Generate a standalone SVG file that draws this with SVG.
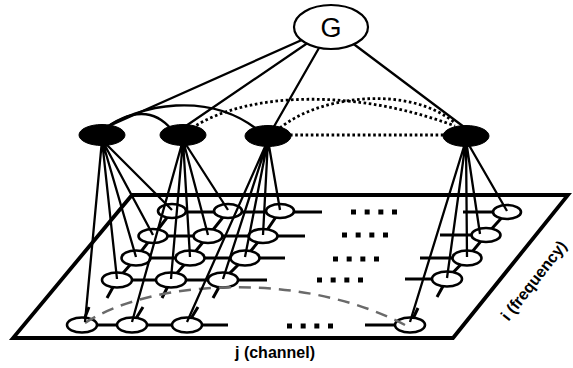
<svg xmlns="http://www.w3.org/2000/svg" width="573" height="368" viewBox="0 0 573 368">
<style>
.ln{stroke:#000;stroke-width:2.3;fill:none}
.row{stroke:#000;stroke-width:3;fill:none}
.cell{fill:#fff;stroke:#000;stroke-width:2.6}
.node{fill:#000;stroke:#000;stroke-width:1}
.dot{stroke:#000;stroke-width:2.8;stroke-dasharray:2.6 2.6;fill:none}
.sq{stroke:#000;stroke-width:5;stroke-dasharray:5 8.67;fill:none}
.lbl{font-family:"Liberation Sans",Arial,sans-serif;font-weight:bold;font-size:16px;fill:#000}
</style>
<rect width="573" height="368" fill="#fff"/>
<g id="plane">
<polygon points="132,195 568,195 453,338 13,338" fill="none" stroke="#000" stroke-width="3.8" stroke-linejoin="miter"/>
</g>
<g id="grid-lines">
<line class="row" x1="172" y1="212" x2="322" y2="212"/>
<line class="row" x1="153" y1="236" x2="305" y2="236"/>
<line class="row" x1="136" y1="258" x2="285" y2="258"/>
<line class="row" x1="117" y1="280" x2="267" y2="280"/>
<line class="row" x1="82" y1="325" x2="228" y2="325"/>
<line class="row" x1="463" y1="212" x2="507" y2="212"/>
<line class="row" x1="440" y1="235" x2="486" y2="235"/>
<line class="row" x1="420" y1="258" x2="467" y2="258"/>
<line class="row" x1="405" y1="279" x2="447" y2="279"/>
<line class="row" x1="365" y1="325" x2="410" y2="325"/>
<path class="row" d="M172,211 L153,236 L136,258 L117,280 L107,298 M82,325 L89,307"/>
<path class="row" d="M228,211 L208,236 L190,258 L171,280 L162,298 M132,325 L143,307"/>
<path class="row" d="M280,211 L263,236 L245,258 L223,280 L213,298 M187,325 L198,307"/>
<path class="row" d="M507,212 L486,235 L467,258 L447,279 L437,297 M410,325 L418,308"/>
<line class="sq" x1="351" y1="212" x2="397" y2="212"/>
<line class="sq" x1="342" y1="235" x2="388" y2="235"/>
<line class="sq" x1="333" y1="259" x2="379" y2="259"/>
<line class="sq" x1="317" y1="280" x2="363" y2="280"/>
<line class="sq" x1="287" y1="326" x2="333" y2="326"/>
</g>
<g id="cells">
<ellipse class="cell" cx="172" cy="211" rx="14" ry="7"/>
<ellipse class="cell" cx="228" cy="211" rx="14" ry="7"/>
<ellipse class="cell" cx="280" cy="211" rx="14" ry="7"/>
<ellipse class="cell" cx="507" cy="212" rx="14" ry="7"/>
<ellipse class="cell" cx="153" cy="236" rx="14.5" ry="7"/>
<ellipse class="cell" cx="208" cy="236" rx="14.5" ry="7"/>
<ellipse class="cell" cx="263" cy="236" rx="14.5" ry="7"/>
<ellipse class="cell" cx="486" cy="235" rx="14.5" ry="7"/>
<ellipse class="cell" cx="136" cy="258" rx="14.5" ry="7.5"/>
<ellipse class="cell" cx="190" cy="258" rx="14.5" ry="7.5"/>
<ellipse class="cell" cx="245" cy="258" rx="14.5" ry="7.5"/>
<ellipse class="cell" cx="467" cy="258" rx="14.5" ry="7.5"/>
<ellipse class="cell" cx="117" cy="280" rx="15" ry="7.5"/>
<ellipse class="cell" cx="171" cy="280" rx="15" ry="7.5"/>
<ellipse class="cell" cx="223" cy="280" rx="15" ry="7.5"/>
<ellipse class="cell" cx="447" cy="279" rx="15" ry="7.5"/>
<ellipse class="cell" cx="82" cy="325" rx="15" ry="7.5"/>
<ellipse class="cell" cx="132" cy="325" rx="15" ry="7.5"/>
<ellipse class="cell" cx="187" cy="325" rx="15" ry="7.5"/>
<ellipse class="cell" cx="410" cy="325" rx="15" ry="7.5"/>
</g>
<g id="connectors">
<path d="M85,323 C150,280 300,270 405,325" fill="none" stroke="#6a6a6a" stroke-width="2.5" stroke-dasharray="12 8"/>
<path class="ln" d="M102,140 L172,210 M102,140 L153,235 M102,140 L136,257 M102,140 L117,279 M102,140 L85,322"/>
<path class="ln" d="M183,140 L228,210 M183,140 L208,235 M183,140 L190,257 M183,140 L171,279 M183,140 L132,322"/>
<path class="ln" d="M268,140 L280,210 M268,140 L263,235 M268,140 L245,257 M268,140 L223,279 M268,140 L187,322"/>
<path class="ln" d="M466,140 L507,211 M466,140 L480,234 M466,140 L467,257 M466,140 L447,278 M466,140 L410,322"/>
<path class="ln" d="M331,27 L100,130 M331,27 L180,130 M331,27 L272,130 M331,27 L468,130"/>
<path class="ln" stroke-width="2.5" d="M100,132 Q145,97 172,130"/>
<path class="ln" stroke-width="2.5" d="M100,132 C140,102 210,92 258,130"/>
<path class="dot" d="M192,128 C250,90 360,90 455,126"/>
<path class="dot" d="M280,128 C320,95 410,85 455,123"/>
<path class="dot" d="M290,135 L445,135"/>
</g>
<g id="node-a"><ellipse class="node" cx="102" cy="135" rx="23" ry="10.5"/></g>
<g id="node-b"><ellipse class="node" cx="183" cy="135" rx="23" ry="10.5"/></g>
<g id="node-c"><ellipse class="node" cx="268" cy="136" rx="23" ry="10.5"/></g>
<g id="node-d"><ellipse class="node" cx="466" cy="136" rx="23" ry="10.5"/></g>
<g id="node-g">
<ellipse cx="331" cy="27" rx="37" ry="22" fill="#fff" stroke="#000" stroke-width="2.2"/>
<text x="331" y="37" text-anchor="middle" font-family="Liberation Sans, Arial, sans-serif" font-size="27" fill="#000">G</text>
</g>
<g id="labels">
<text class="lbl" x="275" y="358" text-anchor="middle">j (channel)</text>
<text class="lbl" text-anchor="middle" transform="translate(538,284) rotate(-52)">i (frequency)</text>
</g>
</svg>
